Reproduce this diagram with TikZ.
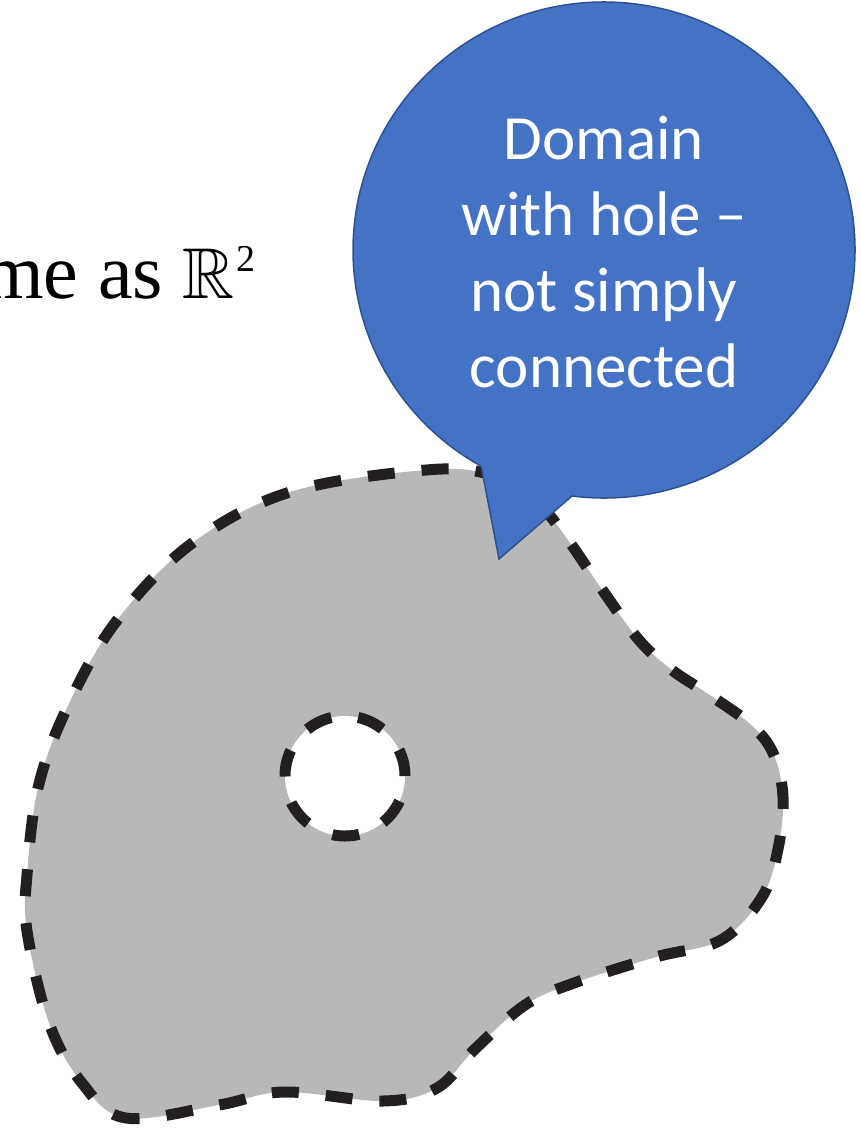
\documentclass[tikz,border=0pt]{standalone}
\usepackage{amssymb}
\usepackage[no-math]{fontspec}
\setmainfont{Liberation Serif}
\newfontfamily\calloutfont{Carlito}
\definecolor{blobgray}{HTML}{B8B8B8}
\definecolor{dashblack}{HTML}{231F20}
\definecolor{callblue}{HTML}{4472C4}
\definecolor{callborder}{HTML}{2F528F}
\tikzset{
  dashedborder/.style={draw=dashblack, line width=11pt, dash pattern=on 27pt off 27pt},
  calloutshape/.style={fill=callblue, draw=callborder, line width=1.5pt, line join=miter},
}
\begin{document}
\begin{tikzpicture}[x=1pt,y=-1pt]
\useasboundingbox (0,0) rectangle (861,1128);
% label at top-left (cut off by the left edge, as in the reference)
\node[anchor=base west, inner sep=0pt, font=\fontsize{78}{90}\selectfont] (same) at (-17,298)
  {me as {\fontsize{72}{80}\selectfont$\mathbb{R}$}\kern2pt\raisebox{27pt}{\fontsize{38}{40}\selectfont 2}};
% domain
\path[fill=blobgray, dashedborder] plot[smooth cycle, tension=0.6] coordinates {
 (426,470) (492,475) (536,501) (568,540) (601,588) (639,640) (672,670) (705,692)
 (749,723) (773,753) (783,797) (778,849) (762,897) (721,940) (656,957) (574,983)
 (525,1005) (475,1049) (437,1088) (383,1101) (284,1092) (219,1105) (126,1118)
 (82,1083) (49,1023) (27,931) (27,875) (38,788) (66,710) (115,623) (191,544) (290,492)};
% hole
\path[fill=white, dashedborder] (345,776) circle[radius=60pt];
% callout
\coordinate (cc) at (604,250);
\coordinate (tip) at (499,559);
\path[calloutshape] (cc) ++(262.7:251pt and 248pt)
  arc[start angle=262.7, end angle=600.7, x radius=251pt, y radius=248pt]
  -- (tip) -- cycle;
\node[text=white, align=center, inner sep=0pt, font=\calloutfont\fontsize{63}{76}\selectfont] (callout) at (604,252)
  {Domain\\with hole –\\not simply\\connected};
\end{tikzpicture}
\end{document}
